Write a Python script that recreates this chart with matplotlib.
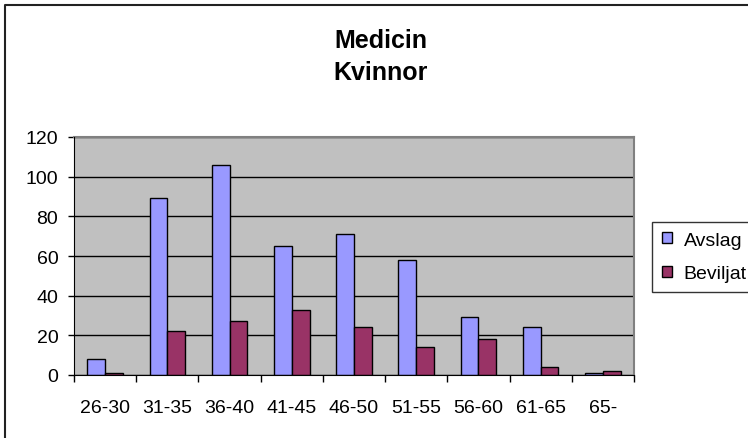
import matplotlib
matplotlib.use("Agg")
import matplotlib.pyplot as plt
import matplotlib.transforms as mtransforms
from matplotlib.lines import Line2D
import numpy as np

categories = ["26-30", "31-35", "36-40", "41-45", "46-50", "51-55", "56-60", "61-65", "65-"]
avslag = [8, 89, 106, 65, 71, 58, 29, 24, 1]
beviljat = [1, 22, 27, 33, 24, 14, 18, 4, 2]
series_names = ["Avslag", "Beviljat"]
yticks = [0, 20, 40, 60, 80, 100, 120]
title_lines = ["Medicin", "Kvinnor"]

plt.rcParams['font.family'] = ['Liberation Sans', 'DejaVu Sans']

W, H = 748, 439
fig = plt.figure(figsize=(W / 100, H / 100), dpi=100)
ax = fig.add_axes([74 / W, 1 - 376 / H, (634 - 74) / W, (376 - 138) / H])
ax.set_facecolor("#C0C0C0")

x = np.arange(len(categories))
bw = 1 / 3.5
ax.bar(x - bw / 2, avslag, bw, color="#9999FF", edgecolor="black", linewidth=1,
       label=series_names[0], zorder=3)
ax.bar(x + bw / 2, beviljat, bw, color="#993366", edgecolor="black", linewidth=1,
       label=series_names[1], zorder=3)

ax.set_xlim(-0.5, len(categories) - 0.5)
ax.set_ylim(0, 120)
ax.set_yticks(yticks)
ax.set_yticklabels([str(v) for v in yticks], fontsize=14)
ax.yaxis.grid(True, color="black", linewidth=1, zorder=1)
ax.set_axisbelow(True)

ax.set_xticks(np.arange(len(categories) + 1) - 0.5)
ax.set_xticklabels([])
ax.tick_params(axis='x', which='major', length=5, width=1, direction='out', color='black')
ax.tick_params(axis='y', length=4.3, width=1, direction='out', pad=7)

# category labels, baseline placed below axis
trans = mtransforms.blended_transform_factory(ax.transData, fig.transFigure)
for xi, lab in zip(x, categories):
    ax.text(xi, 1 - 413 / H, lab, transform=trans, ha="center", va="baseline", fontsize=14)

ax.spines["top"].set_color("#808080")
ax.spines["right"].set_color("#808080")
ax.spines["top"].set_linewidth(1.5)
ax.spines["right"].set_linewidth(1.5)
ax.spines["left"].set_color("black")
ax.spines["bottom"].set_color("black")
ax.spines["left"].set_zorder(4)
ax.spines["bottom"].set_zorder(4)

fig.text(381 / W, 1 - 48 / H, title_lines[0], ha="center", va="baseline", fontsize=18, fontweight="bold")
fig.text(381 / W, 1 - 80 / H, title_lines[1], ha="center", va="baseline", fontsize=18, fontweight="bold")

leg = fig.legend(loc="upper left", bbox_to_anchor=(652 / W, 1 - 223 / H), fontsize=14,
                 frameon=True, fancybox=False, edgecolor="black", handlelength=0.52,
                 handleheight=0.52, handletextpad=0.6, borderpad=0.5, labelspacing=0.85,
                 borderaxespad=0)
leg.get_frame().set_linewidth(1)
for h in leg.legend_handles:
    h.set_linewidth(1)
    h.set_edgecolor("black")

# chart-area border (only left and top edges fall inside the image)
fig.lines.append(Line2D([5 / W, 5 / W, 1.02], [-0.02, 1 - 6 / H, 1 - 6 / H],
                        transform=fig.transFigure, color="#222222", linewidth=1.5))

fig.savefig("out.png", dpi=100)
